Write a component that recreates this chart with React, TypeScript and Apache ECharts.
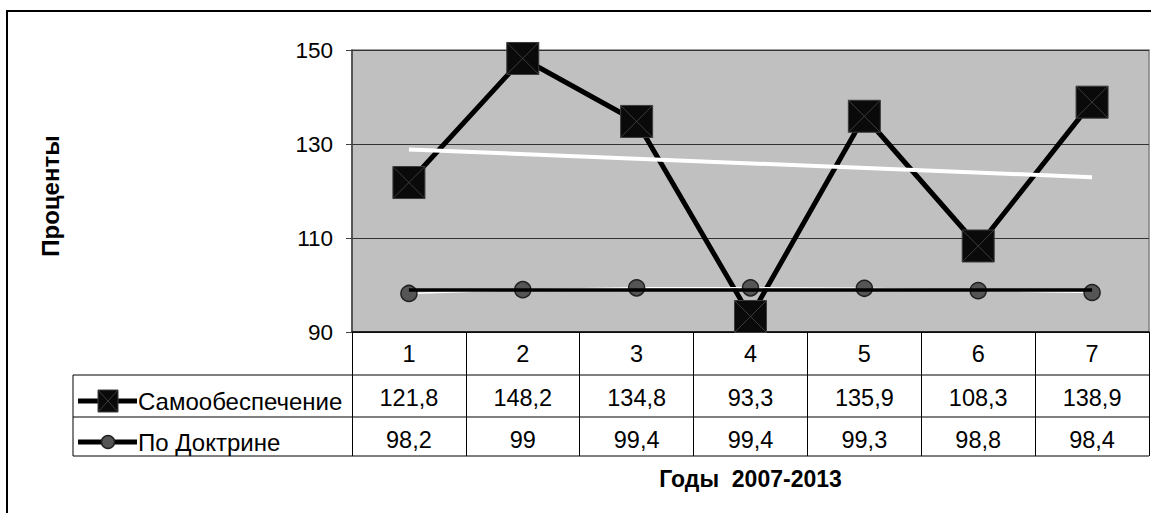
import React, { useEffect, useRef } from "react";
import * as echarts from "echarts";

const categories = ["1", "2", "3", "4", "5", "6", "7"];
const selfValues = [121.8, 148.2, 134.8, 93.3, 135.9, 108.3, 138.9];
const doctrineValues = [98.2, 99, 99.4, 99.4, 99.3, 98.8, 98.4];
const seriesNames = ["Самообеспечение", "По Доктрине"];
const yMin = 90;
const yMax = 150;
const yStep = 20;
const yAxisTitle = "Проценты";
const xAxisTitle = "Годы  2007-2013";

const FONT = "'Liberation Sans', Arial, sans-serif";

// Linear regression trend (like Excel's linear trendline), endpoints only
function linearTrend(vals: number[]): (number | null)[] {
  const n = vals.length;
  const xs = vals.map((_, i) => i + 1);
  const mx = xs.reduce((a, b) => a + b, 0) / n;
  const my = vals.reduce((a, b) => a + b, 0) / n;
  let sxy = 0;
  let sxx = 0;
  for (let i = 0; i < n; i++) {
    sxy += (xs[i] - mx) * (vals[i] - my);
    sxx += (xs[i] - mx) * (xs[i] - mx);
  }
  const slope = sxy / sxx;
  return vals.map((_, i) =>
    i === 0 || i === n - 1 ? my + slope * (xs[i] - mx) : null
  );
}

const fmt = (v: number) => String(v).replace(".", ",");

const GRID = { left: 352, top: 50, width: 797, height: 282 };
const TABLE_LEFT = 73;
const ROW1_BOTTOM = 375;
const ROW2_BOTTOM = 417;
const TABLE_BOTTOM = 456;
const RIGHT = GRID.left + GRID.width;
const BOTTOM = GRID.top + GRID.height;

const squarePath = "path://M0 0H32V32H0Z M0 0L32 32 M32 0L0 32";

export default function App() {
  const ref = useRef<HTMLDivElement>(null);

  useEffect(() => {
    if (!ref.current) return;
    const chart = echarts.init(ref.current, undefined, { renderer: "svg" });

    const row2Y = 401;
    const row3Y = 442;
    const keyX1 = 78;
    const keyX2 = 137;
    const keyCx = 108;
    const NUM = 23.5;
    const NAME = 24;

    const lineStyle = { stroke: "#000", lineWidth: 1 };

    chart.setOption({
      animation: false,
      backgroundColor: "#ffffff",
      textStyle: { fontFamily: FONT },
      grid: {
        left: GRID.left,
        top: GRID.top,
        width: GRID.width,
        height: GRID.height,
        show: true,
        backgroundColor: "#c0c0c0",
        borderColor: "#808080",
        borderWidth: 1.5,
      },
      xAxis: {
        type: "category",
        data: categories,
        boundaryGap: true,
        name: xAxisTitle,
        nameLocation: "middle",
        nameGap: 135,
        nameTextStyle: {
          fontFamily: FONT,
          fontSize: 23,
          fontWeight: "bold",
          color: "#000",
        },
        axisLine: { show: true, lineStyle: { color: "#000", width: 1.5 } },
        axisTick: {
          show: true,
          interval: 0,
          length: TABLE_BOTTOM - BOTTOM,
          lineStyle: { color: "#000", width: 1 },
        },
        axisLabel: {
          interval: 0,
          margin: 0,
          fontFamily: FONT,
          fontSize: NUM,
          color: "#000",
          formatter: (value: string, index: number) =>
            `{c|${value}}\n{s|${fmt(selfValues[index])}}\n{d|${fmt(
              doctrineValues[index]
            )}}`,
          rich: {
            c: { lineHeight: 43, fontSize: NUM, fontFamily: FONT, color: "#000" },
            s: { lineHeight: 46, fontSize: NUM, fontFamily: FONT, color: "#000" },
            d: { lineHeight: 38, fontSize: NUM, fontFamily: FONT, color: "#000" },
          },
        },
        splitLine: { show: false },
      },
      yAxis: {
        type: "value",
        min: yMin,
        max: yMax,
        interval: yStep,
        name: yAxisTitle,
        nameLocation: "middle",
        nameRotate: 90,
        nameGap: 290,
        nameTextStyle: {
          fontFamily: FONT,
          fontSize: 24,
          fontWeight: "bold",
          color: "#000",
          padding: [0, 10, 0, 0],
        },
        axisLine: { show: true, lineStyle: { color: "#404040", width: 1.5 } },
        axisTick: {
          show: true,
          length: 6,
          lineStyle: { color: "#404040", width: 1 },
        },
        axisLabel: {
          margin: 19,
          fontFamily: FONT,
          fontSize: 22.5,
          color: "#000",
        },
        splitLine: { show: true, lineStyle: { color: "#333", width: 1 } },
      },
      series: [
        {
          name: seriesNames[0],
          type: "line",
          data: selfValues,
          z: 2,
          symbol: squarePath,
          symbolSize: 32,
          lineStyle: { color: "#000", width: 5 },
          itemStyle: { color: "#0a0a0a", borderColor: "#3c3c3c", borderWidth: 1 },
        },
        {
          name: seriesNames[0] + " trend",
          type: "line",
          data: linearTrend(selfValues),
          connectNulls: true,
          z: 3,
          symbol: "none",
          lineStyle: { color: "#ffffff", width: 4 },
        },
        {
          name: seriesNames[1],
          type: "line",
          data: doctrineValues,
          z: 4,
          symbol: "circle",
          symbolSize: 16,
          lineStyle: { color: "#ffffff", width: 1.5 },
          itemStyle: { color: "#555555", borderColor: "#222222", borderWidth: 1.5 },
        },
        {
          name: seriesNames[1] + " trend",
          type: "line",
          data: linearTrend(doctrineValues),
          connectNulls: true,
          z: 5,
          symbol: "none",
          lineStyle: { color: "#000000", width: 3.5 },
        },
      ],
      graphic: [
        // outer chart border
        {
          type: "rect",
          shape: { x: 7, y: 11, width: 1170, height: 540 },
          style: { fill: "none", stroke: "#000", lineWidth: 2 },
          silent: true,
        },
        // data table lines
        {
          type: "line",
          shape: { x1: TABLE_LEFT, y1: ROW1_BOTTOM, x2: RIGHT, y2: ROW1_BOTTOM },
          style: lineStyle,
        },
        {
          type: "line",
          shape: { x1: TABLE_LEFT, y1: ROW2_BOTTOM, x2: RIGHT, y2: ROW2_BOTTOM },
          style: lineStyle,
        },
        {
          type: "line",
          shape: { x1: TABLE_LEFT, y1: TABLE_BOTTOM, x2: RIGHT, y2: TABLE_BOTTOM },
          style: lineStyle,
        },
        {
          type: "line",
          shape: { x1: TABLE_LEFT, y1: ROW1_BOTTOM, x2: TABLE_LEFT, y2: TABLE_BOTTOM },
          style: lineStyle,
        },
        // legend key 1
        {
          type: "line",
          shape: { x1: keyX1, y1: row2Y, x2: keyX2, y2: row2Y },
          style: { stroke: "#000", lineWidth: 5 },
        },
        {
          type: "rect",
          shape: { x: keyCx - 10, y: row2Y - 11, width: 20, height: 22 },
          style: { fill: "#0a0a0a", stroke: "#3c3c3c", lineWidth: 1 },
        },
        {
          type: "line",
          shape: { x1: keyCx - 10, y1: row2Y - 11, x2: keyCx + 10, y2: row2Y + 11 },
          style: { stroke: "#3c3c3c", lineWidth: 1 },
        },
        {
          type: "line",
          shape: { x1: keyCx + 10, y1: row2Y - 11, x2: keyCx - 10, y2: row2Y + 11 },
          style: { stroke: "#3c3c3c", lineWidth: 1 },
        },
        {
          type: "text",
          x: 138,
          y: row2Y,
          style: {
            text: seriesNames[0],
            fill: "#000",
            font: `${NAME}px ${FONT}`,
            verticalAlign: "middle",
          },
        },
        // legend key 2
        {
          type: "line",
          shape: { x1: keyX1, y1: row3Y, x2: keyX2, y2: row3Y },
          style: { stroke: "#000", lineWidth: 5 },
        },
        {
          type: "circle",
          shape: { cx: keyCx, cy: row3Y, r: 6.5 },
          style: { fill: "#555555", stroke: "#222", lineWidth: 1.5 },
        },
        {
          type: "text",
          x: 138,
          y: row3Y,
          style: {
            text: seriesNames[1],
            fill: "#000",
            font: `${NAME}px ${FONT}`,
            verticalAlign: "middle",
          },
        },
      ],
    });

    return () => chart.dispose();
  }, []);

  return (
    <div
      ref={ref}
      style={{
        position: "absolute",
        left: 0,
        top: 0,
        width: 1151,
        height: 513,
        background: "#fff",
      }}
    />
  );
}
